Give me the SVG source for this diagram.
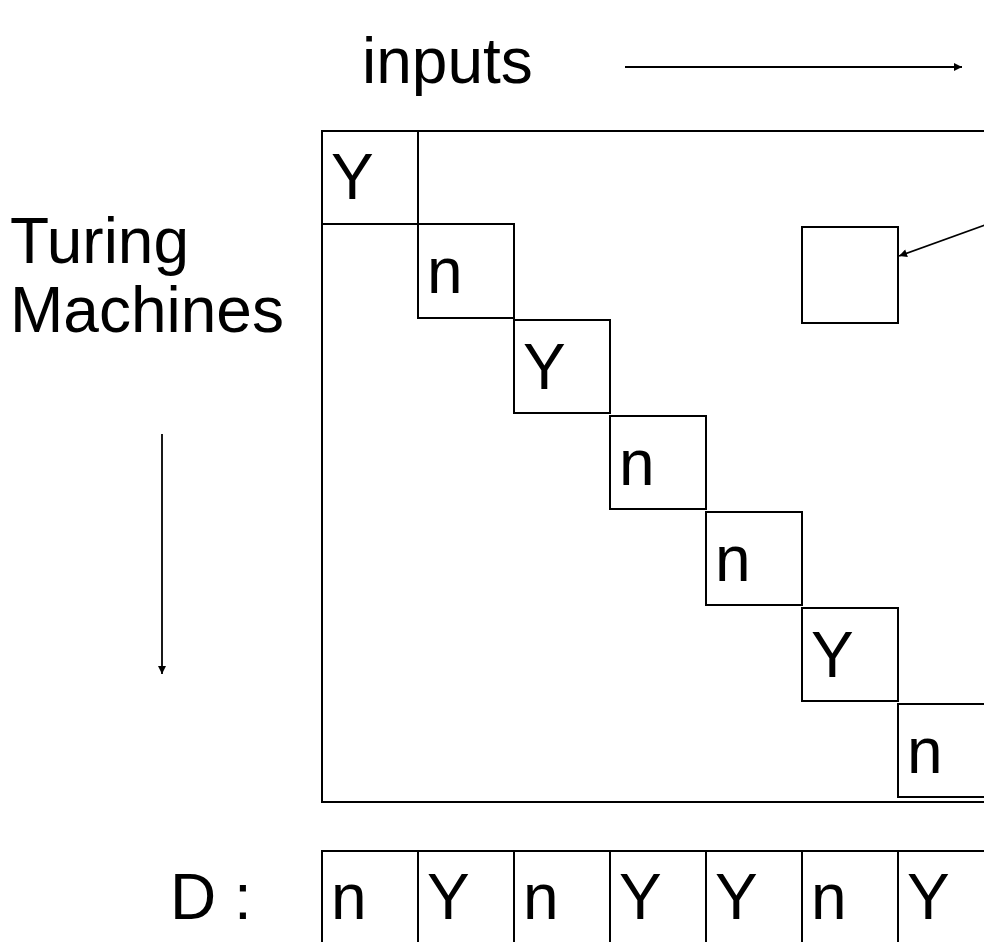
<svg xmlns="http://www.w3.org/2000/svg" width="984" height="942" viewBox="0 0 984 942">
  <style>
    .box { fill: #ffffff; stroke: #000000; stroke-width: 2; }
    .lbl { font-family: "Liberation Sans", Arial, sans-serif; font-size: 64px; fill: #000000; }
    .wire { fill: none; stroke: #000000; stroke-width: 1.8; }
  </style>
  <defs>
    <marker id="head" viewBox="0 0 10 10" refX="10" refY="5" markerWidth="9" markerHeight="8" markerUnits="userSpaceOnUse" orient="auto">
      <path d="M0,0 L10,5 L0,10 Z" fill="#000000"/>
    </marker>
  </defs>

  <rect width="984" height="942" fill="#ffffff"/>

  <!-- axis labels -->
  <g id="label-inputs"><text class="lbl" x="362" y="83">inputs</text></g>
  <g id="label-machines">
    <text class="lbl" x="10" y="263">Turing</text>
    <text class="lbl" x="10" y="332">Machines</text>
  </g>
  <g id="label-d"><text class="lbl" x="170" y="919">D :</text></g>

  <!-- table of machines x inputs -->
  <g id="table"><rect class="box" x="322" y="131" width="700" height="671"/></g>

  <!-- diagonal entries -->
  <g id="diag-1"><rect class="box" x="322" y="131" width="96" height="93"/><text class="lbl" x="331" y="199">Y</text></g>
  <g id="diag-2"><rect class="box" x="418" y="224" width="96" height="94"/><text class="lbl" x="427" y="293">n</text></g>
  <g id="diag-3"><rect class="box" x="514" y="320" width="96" height="93"/><text class="lbl" x="523" y="389">Y</text></g>
  <g id="diag-4"><rect class="box" x="610" y="416" width="96" height="93"/><text class="lbl" x="619" y="485">n</text></g>
  <g id="diag-5"><rect class="box" x="706" y="512" width="96" height="93"/><text class="lbl" x="715" y="581">n</text></g>
  <g id="diag-6"><rect class="box" x="802" y="608" width="96" height="93"/><text class="lbl" x="811" y="677">Y</text></g>
  <g id="diag-7"><rect class="box" x="898" y="704" width="110" height="93"/><text class="lbl" x="907" y="773">n</text></g>

  <!-- a single entry -->
  <g id="entry"><rect class="box" x="802" y="227" width="96" height="96"/></g>

  <!-- the row D -->
  <g id="d-1"><rect class="box" x="322" y="851" width="96" height="110"/><text class="lbl" x="331" y="919">n</text></g>
  <g id="d-2"><rect class="box" x="418" y="851" width="96" height="110"/><text class="lbl" x="427" y="919">Y</text></g>
  <g id="d-3"><rect class="box" x="514" y="851" width="96" height="110"/><text class="lbl" x="523" y="919">n</text></g>
  <g id="d-4"><rect class="box" x="610" y="851" width="96" height="110"/><text class="lbl" x="619" y="919">Y</text></g>
  <g id="d-5"><rect class="box" x="706" y="851" width="96" height="110"/><text class="lbl" x="715" y="919">Y</text></g>
  <g id="d-6"><rect class="box" x="802" y="851" width="96" height="110"/><text class="lbl" x="811" y="919">n</text></g>
  <g id="d-7"><rect class="box" x="898" y="851" width="110" height="110"/><text class="lbl" x="907" y="919">Y</text></g>

  <!-- arrows -->
  <g id="connectors">
    <line class="wire" x1="625" y1="67" x2="962" y2="67" marker-end="url(#head)"/>
    <line class="wire" x1="162" y1="434" x2="162" y2="674" marker-end="url(#head)"/>
    <line class="wire" x1="1010" y1="216" x2="899" y2="256" marker-end="url(#head)"/>
  </g>
</svg>
